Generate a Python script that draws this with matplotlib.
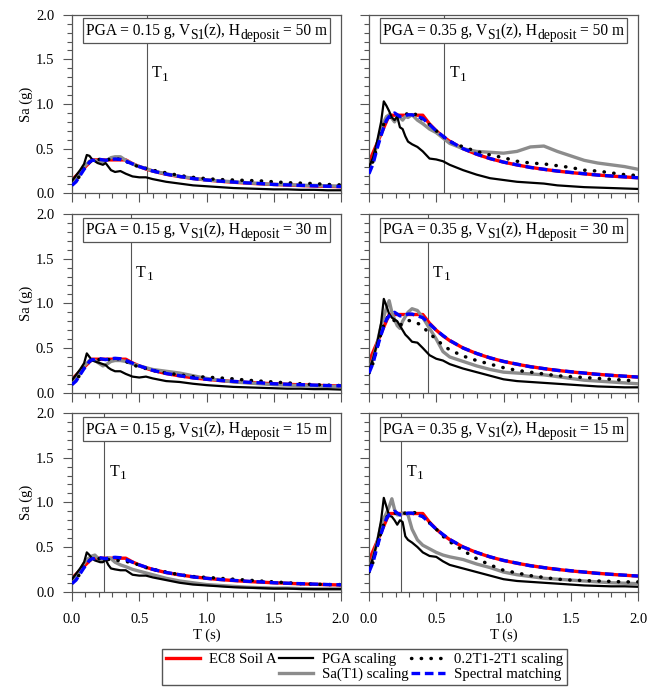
import numpy as np
import matplotlib
matplotlib.use('Agg')
import matplotlib.pyplot as plt
from matplotlib.lines import Line2D
from matplotlib.patches import Rectangle
from matplotlib.ticker import MultipleLocator, FormatStrFormatter

plt.rcParams['font.family'] = ['Liberation Serif', 'DejaVu Serif']
plt.rcParams['font.size'] = 10

# period grid (s)
periods = [0.0, 0.03, 0.06, 0.09, 0.11, 0.13, 0.15, 0.17, 0.19, 0.21, 0.23, 0.25,
           0.27, 0.29, 0.32, 0.36, 0.4, 0.45, 0.5, 0.55, 0.6, 0.7, 0.8, 0.9,
           1.0, 1.1, 1.2, 1.3, 1.4, 1.5, 1.6, 1.7, 1.8, 1.9, 2.0]

# EC8 soil A target spectra
ec8_015 = [0.150, 0.195, 0.240, 0.285, 0.315, 0.345, 0.375, 0.375, 0.375, 0.375, 0.375, 0.375,
           0.375, 0.375, 0.375, 0.375, 0.375, 0.333, 0.300, 0.273, 0.250, 0.214, 0.188, 0.167,
           0.150, 0.136, 0.125, 0.115, 0.107, 0.100, 0.094, 0.088, 0.083, 0.079, 0.075]
ec8_035 = [0.350, 0.455, 0.560, 0.665, 0.735, 0.805, 0.875, 0.875, 0.875, 0.875, 0.875, 0.875,
           0.875, 0.875, 0.875, 0.875, 0.875, 0.778, 0.700, 0.636, 0.583, 0.500, 0.438, 0.389,
           0.350, 0.318, 0.292, 0.269, 0.250, 0.233, 0.219, 0.206, 0.194, 0.184, 0.175]

# spectral matching
match_015 = [0.09, 0.13, 0.20, 0.27, 0.31, 0.35, 0.37, 0.37, 0.38, 0.38, 0.375, 0.37,
             0.375, 0.38, 0.385, 0.38, 0.36, 0.33, 0.30, 0.275, 0.25, 0.215, 0.19, 0.165,
             0.15, 0.137, 0.127, 0.117, 0.11, 0.10, 0.095, 0.09, 0.085, 0.08, 0.077]
match_035 = [0.22, 0.33, 0.50, 0.65, 0.74, 0.82, 0.86, 0.88, 0.90, 0.88, 0.86, 0.86,
             0.87, 0.88, 0.88, 0.86, 0.84, 0.77, 0.70, 0.64, 0.585, 0.50, 0.44, 0.39,
             0.35, 0.32, 0.29, 0.27, 0.25, 0.235, 0.22, 0.205, 0.195, 0.185, 0.175]

# PGA scaling
pga_15_50 = [0.14, 0.20, 0.26, 0.33, 0.43, 0.42, 0.38, 0.36, 0.34, 0.33, 0.32, 0.34,
             0.30, 0.26, 0.24, 0.25, 0.22, 0.19, 0.18, 0.18, 0.16, 0.13, 0.11, 0.09,
             0.08, 0.07, 0.06, 0.055, 0.05, 0.045, 0.045, 0.04, 0.04, 0.035, 0.035]
pga_35_50 = [0.30, 0.40, 0.58, 0.80, 1.03, 0.98, 0.92, 0.85, 0.82, 0.86, 0.74, 0.72,
             0.64, 0.58, 0.55, 0.52, 0.47, 0.39, 0.38, 0.36, 0.32, 0.26, 0.21, 0.17,
             0.15, 0.13, 0.12, 0.11, 0.09, 0.08, 0.07, 0.065, 0.06, 0.055, 0.05]
pga_15_30 = [0.14, 0.20, 0.26, 0.33, 0.44, 0.40, 0.36, 0.35, 0.34, 0.33, 0.32, 0.31,
             0.28, 0.26, 0.24, 0.24, 0.21, 0.18, 0.17, 0.18, 0.16, 0.13, 0.12, 0.10,
             0.085, 0.075, 0.065, 0.06, 0.055, 0.05, 0.045, 0.045, 0.04, 0.04, 0.035]
pga_35_30 = [0.25, 0.38, 0.55, 0.78, 1.05, 0.97, 0.88, 0.84, 0.82, 0.80, 0.75, 0.70,
             0.65, 0.62, 0.57, 0.56, 0.50, 0.42, 0.38, 0.36, 0.32, 0.27, 0.23, 0.19,
             0.15, 0.13, 0.12, 0.11, 0.10, 0.09, 0.08, 0.07, 0.065, 0.06, 0.06]
pga_15_15 = [0.14, 0.20, 0.26, 0.33, 0.44, 0.41, 0.37, 0.35, 0.34, 0.33, 0.33, 0.36,
             0.30, 0.26, 0.25, 0.24, 0.24, 0.19, 0.18, 0.18, 0.16, 0.13, 0.10, 0.08,
             0.07, 0.06, 0.05, 0.045, 0.04, 0.035, 0.035, 0.03, 0.03, 0.03, 0.03]
pga_35_15 = [0.25, 0.38, 0.55, 0.80, 1.05, 0.95, 0.85, 0.84, 0.80, 0.75, 0.80, 0.78,
             0.62, 0.58, 0.55, 0.50, 0.44, 0.40, 0.39, 0.34, 0.30, 0.26, 0.22, 0.18,
             0.14, 0.12, 0.11, 0.10, 0.09, 0.08, 0.07, 0.065, 0.06, 0.06, 0.055]

# Sa(T1) scaling
sat1_15_50 = [0.12, 0.15, 0.22, 0.30, 0.33, 0.36, 0.37, 0.37, 0.36, 0.36, 0.35, 0.37,
              0.38, 0.40, 0.41, 0.41, 0.37, 0.33, 0.30, 0.28, 0.25, 0.22, 0.19, 0.17,
              0.15, 0.14, 0.13, 0.12, 0.11, 0.10, 0.10, 0.09, 0.09, 0.085, 0.08]
sat1_35_50 = [0.30, 0.38, 0.55, 0.72, 0.80, 0.86, 0.88, 0.84, 0.80, 0.86, 0.85, 0.82,
              0.86, 0.85, 0.88, 0.82, 0.78, 0.72, 0.68, 0.62, 0.56, 0.50, 0.47, 0.46,
              0.45, 0.47, 0.52, 0.53, 0.47, 0.42, 0.37, 0.34, 0.32, 0.30, 0.27]
sat1_15_30 = [0.12, 0.15, 0.22, 0.30, 0.33, 0.36, 0.37, 0.36, 0.34, 0.32, 0.30, 0.31,
              0.33, 0.35, 0.36, 0.36, 0.35, 0.32, 0.30, 0.28, 0.26, 0.24, 0.22, 0.19,
              0.16, 0.14, 0.12, 0.11, 0.10, 0.09, 0.085, 0.08, 0.075, 0.07, 0.07]
sat1_35_30 = [0.25, 0.38, 0.55, 0.75, 0.85, 0.95, 1.03, 0.90, 0.82, 0.75, 0.72, 0.80,
              0.85, 0.90, 0.94, 0.92, 0.84, 0.72, 0.60, 0.46, 0.40, 0.35, 0.30, 0.26,
              0.23, 0.22, 0.21, 0.20, 0.18, 0.16, 0.14, 0.13, 0.12, 0.11, 0.10]
sat1_15_15 = [0.12, 0.16, 0.24, 0.32, 0.36, 0.38, 0.40, 0.41, 0.38, 0.35, 0.35, 0.37,
              0.38, 0.37, 0.33, 0.30, 0.28, 0.25, 0.23, 0.21, 0.19, 0.15, 0.12, 0.10,
              0.08, 0.07, 0.06, 0.05, 0.045, 0.04, 0.04, 0.035, 0.03, 0.03, 0.03]
sat1_35_15 = [0.25, 0.38, 0.55, 0.75, 0.82, 0.88, 0.95, 1.04, 0.92, 0.86, 0.86, 0.88,
              0.88, 0.86, 0.70, 0.58, 0.52, 0.48, 0.44, 0.41, 0.39, 0.36, 0.31, 0.27,
              0.22, 0.19, 0.17, 0.15, 0.14, 0.13, 0.12, 0.11, 0.10, 0.095, 0.09]

# 0.2T1-2T1 scaling
rng_15_50 = [0.10, 0.14, 0.20, 0.28, 0.31, 0.35, 0.37, 0.38, 0.38, 0.38, 0.38, 0.39,
             0.38, 0.38, 0.39, 0.38, 0.36, 0.32, 0.30, 0.28, 0.26, 0.23, 0.20, 0.18,
             0.165, 0.155, 0.15, 0.145, 0.14, 0.13, 0.12, 0.115, 0.11, 0.10, 0.095]
rng_35_50 = [0.25, 0.36, 0.52, 0.68, 0.78, 0.82, 0.85, 0.86, 0.88, 0.87, 0.86, 0.88,
             0.90, 0.88, 0.86, 0.90, 0.82, 0.77, 0.70, 0.64, 0.58, 0.52, 0.47, 0.43,
             0.40, 0.36, 0.34, 0.33, 0.31, 0.29, 0.26, 0.25, 0.23, 0.21, 0.20]
rng_15_30 = [0.10, 0.14, 0.20, 0.28, 0.31, 0.35, 0.37, 0.38, 0.37, 0.37, 0.38, 0.37,
             0.37, 0.38, 0.39, 0.37, 0.35, 0.31, 0.29, 0.27, 0.25, 0.22, 0.20, 0.18,
             0.175, 0.165, 0.155, 0.14, 0.13, 0.12, 0.11, 0.10, 0.09, 0.085, 0.08]
rng_35_30 = [0.22, 0.33, 0.50, 0.67, 0.76, 0.83, 0.86, 0.85, 0.80, 0.76, 0.75, 0.78,
             0.80, 0.81, 0.80, 0.78, 0.74, 0.66, 0.60, 0.53, 0.48, 0.41, 0.36, 0.32,
             0.28, 0.25, 0.23, 0.21, 0.19, 0.18, 0.17, 0.16, 0.15, 0.14, 0.13]
rng_15_15 = [0.10, 0.14, 0.20, 0.28, 0.31, 0.35, 0.37, 0.38, 0.37, 0.37, 0.38, 0.37,
             0.36, 0.36, 0.35, 0.35, 0.34, 0.32, 0.30, 0.27, 0.25, 0.22, 0.19, 0.17,
             0.16, 0.15, 0.14, 0.13, 0.12, 0.11, 0.10, 0.09, 0.085, 0.08, 0.08]
rng_35_15 = [0.22, 0.33, 0.50, 0.67, 0.76, 0.83, 0.87, 0.88, 0.88, 0.88, 0.88, 0.87,
             0.88, 0.88, 0.88, 0.89, 0.84, 0.77, 0.70, 0.62, 0.56, 0.46, 0.37, 0.30,
             0.24, 0.21, 0.18, 0.16, 0.14, 0.13, 0.125, 0.12, 0.115, 0.11, 0.11]

# panels: (pga, depth, T1, ec8, pga scaling, sa(t1) scaling, range scaling, matching)
panels = [
    ('0.15', '50', 0.555, ec8_015, pga_15_50, sat1_15_50, rng_15_50, match_015),
    ('0.35', '50', 0.56, ec8_035, pga_35_50, sat1_35_50, rng_35_50, match_035),
    ('0.15', '30', 0.44, ec8_015, pga_15_30, sat1_15_30, rng_15_30, match_015),
    ('0.35', '30', 0.44, ec8_035, pga_35_30, sat1_35_30, rng_35_30, match_035),
    ('0.15', '15', 0.24, ec8_015, pga_15_15, sat1_15_15, rng_15_15, match_015),
    ('0.35', '15', 0.24, ec8_035, pga_35_15, sat1_35_15, rng_35_15, match_035),
]

W, H = 648, 693
fig = plt.figure(figsize=(W / 100, H / 100), dpi=100)
renderer = fig.canvas.get_renderer()

col_x = [72, 369]
ax_w = 269
row_top = [14.7, 214, 413]
ax_h = 178.7
frame_col = '#555555'
dot_style = (0, (0.1, 2.7))
dash_style = (0, (2.6, 1.4))


def place_pieces(pieces, x_px, base_px, align='center'):
    """Write text pieces with their own size and baseline shift; x/y in figure pixels
    (origin bottom left). Returns (left, right) pixel extent."""
    widths = []
    arts = []
    for txt, size, dy, g in pieces:
        t = fig.text(0, 0, txt, fontsize=size, va='baseline', ha='left', zorder=11)
        widths.append(t.get_window_extent(renderer).width + g)
        arts.append(t)
    total = sum(widths)
    x = x_px - total / 2 if align == 'center' else x_px
    left = x
    for t, w, (txt, size, dy, g) in zip(arts, widths, pieces):
        t.set_position(((x + g) / W, (base_px + dy) / H))
        x += w
    return left, x


for i, (pga, depth, t1, ec8, pga_s, sat1_s, rng_s, match_s) in enumerate(panels):
    r, c = divmod(i, 2)
    ax_left = col_x[c]
    ax_bot = H - (row_top[r] + ax_h)
    ax = fig.add_axes([ax_left / W, ax_bot / H, ax_w / W, ax_h / H])

    ax.axvline(t1, color='#555555', lw=0.8, zorder=1)
    ax.plot(periods, ec8, color='red', lw=2.4, zorder=2)
    ax.plot(periods, sat1_s, color='#8c8c8c', lw=2.4, zorder=3)
    ax.plot(periods, pga_s, color='black', lw=1.6, zorder=4)
    ax.plot(periods, rng_s, color='black', lw=2.5, linestyle=dot_style,
            dash_capstyle='round', zorder=5)
    ax.plot(periods, match_s, color='blue', lw=2.4, linestyle=dash_style, zorder=6)

    ax.set_xlim(0, 2.0)
    ax.set_ylim(0, 2.0)
    ax.xaxis.set_major_locator(MultipleLocator(0.5))
    ax.xaxis.set_minor_locator(MultipleLocator(0.1))
    ax.yaxis.set_major_locator(MultipleLocator(0.5))
    ax.yaxis.set_minor_locator(MultipleLocator(0.1))
    ax.tick_params(which='both', direction='out', color=frame_col, labelsize=10.5)
    ax.tick_params(which='major', length=6.2, width=0.8)
    ax.tick_params(which='minor', length=3.8, width=0.8)
    ax.tick_params(axis='x', which='major', pad=9.0)
    ax.tick_params(axis='y', which='major', pad=6.5)
    for sp in ax.spines.values():
        sp.set_color(frame_col)
        sp.set_linewidth(0.9)

    if c == 0:
        ax.yaxis.set_major_formatter(FormatStrFormatter('%.1f'))
        ax.set_ylabel('Sa (g)', fontsize=10.5, labelpad=2)
    else:
        ax.tick_params(labelleft=False)
    if r == 2:
        ax.xaxis.set_major_formatter(FormatStrFormatter('%.1f'))
        ax.set_xlabel('T (s)', fontsize=10.5, labelpad=2)
    else:
        ax.tick_params(labelbottom=False)

    # T1 label
    t1_px = ax_left + t1 / 2.0 * ax_w
    t1_base = ax_bot + 1.30 / 2.0 * ax_h
    place_pieces([('T', 11.5, 0, 0), ('1', 9.5, -3.5, 0.5)], t1_px + 5, t1_base, align='left')

    # boxed caption
    ax_top = ax_bot + ax_h
    base = ax_top - 20.5
    pieces = [('PGA = %s g, V' % pga, 11.2, 0, 0), ('S1', 9.8, -3.5, 0),
              ('(z), H', 11.2, 0, 0), ('deposit', 9.8, -3.5, 0), ('= %s m' % depth, 11.2, 0, 3.5)]
    left, right = place_pieces(pieces, ax_left + ax_w / 2, base)
    box = Rectangle(((left - 3) / W, (base - 7.5) / H), (right - left + 6) / W, 24.5 / H,
                    transform=fig.transFigure, facecolor='white', edgecolor='#555555',
                    lw=0.9, zorder=10)
    fig.add_artist(box)

# legend
blank = Line2D([], [], color='none')
h_ec8 = Line2D([], [], color='red', lw=2.4)
h_pga = Line2D([], [], color='black', lw=1.6)
h_sat = Line2D([], [], color='#8c8c8c', lw=2.4)
h_rng = Line2D([], [], color='black', lw=2.5, linestyle=dot_style, dash_capstyle='round')
h_mat = Line2D([], [], color='blue', lw=2.4, linestyle=dash_style)
fig.legend([h_ec8, blank, h_pga, h_sat, h_rng, h_mat],
           ['EC8 Soil A', '', 'PGA scaling', 'Sa(T1) scaling', '0.2T1-2T1 scaling', 'Spectral matching'],
           ncol=3, loc='upper center', bbox_to_anchor=(364.5 / W, 1 - 649 / H),
           fontsize=10.6, frameon=True, fancybox=False, edgecolor=frame_col, framealpha=1,
           handlelength=2.3, handletextpad=0.6, columnspacing=0.2, labelspacing=0.1,
           borderpad=0.25, borderaxespad=0)

fig.savefig('out.png', dpi=100)
